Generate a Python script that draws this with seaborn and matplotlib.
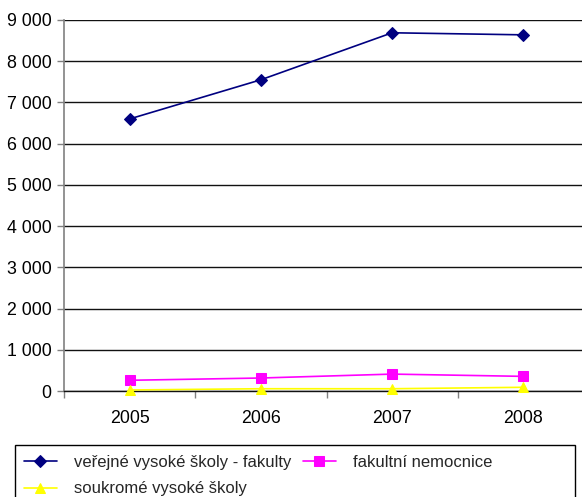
import matplotlib
matplotlib.use("Agg")
import matplotlib.pyplot as plt
import matplotlib.patches as mpatches
import seaborn as sns
import pandas as pd

sns.set_theme(style="white")
plt.rcParams["font.family"] = ["Liberation Sans", "DejaVu Sans"]

years = ["2005", "2006", "2007", "2008"]
verejne = [6600, 7550, 8690, 8640]
nemocnice = [260, 315, 410, 355]
soukrome = [25, 55, 55, 90]

series = [
    ("veřejné vysoké školy - fakulty", verejne, "#000080", "D", 6),
    ("fakultní nemocnice", nemocnice, "#FF00FF", "s", 6.5),
    ("soukromé vysoké školy", soukrome, "#FFFF00", "^", 7),
]

fig = plt.figure(figsize=(5.82, 4.97), dpi=100)
ax = fig.add_axes([64 / 582, 106 / 497, 525 / 582, 371 / 497])

for name, vals, color, marker, ms in series:
    df = pd.DataFrame({"rok": years, "pocet": vals})
    sns.lineplot(data=df, x="rok", y="pocet", ax=ax, color=color, marker=marker,
                 markersize=ms, markeredgecolor=color, linewidth=1.2, label=name,
                 sort=False, zorder=4, clip_on=False)

ax.set_xlim(-0.5, 3.5)
ax.set_ylim(0, 9000)
ax.set_yticks(range(0, 9001, 1000))
ax.set_yticklabels([f"{v:,}".replace(",", " ") for v in range(0, 9001, 1000)])
ax.set_xticks(range(len(years)))
ax.set_xticklabels(years)
ax.set_xticks([-0.5, 0.5, 1.5, 2.5, 3.5], minor=True)
ax.set_xlabel("")
ax.set_ylabel("")

ax.yaxis.grid(True, color="#111111", linewidth=1.0)
ax.set_axisbelow(True)
for s in ["top", "right"]:
    ax.spines[s].set_visible(False)
ax.spines["left"].set_color("#808080")
ax.spines["bottom"].set_color("#111111")
ax.spines["left"].set_linewidth(1.2)
ax.spines["bottom"].set_linewidth(1.0)

ax.tick_params(axis="y", which="major", left=True, length=5, width=1, color="#808080",
               labelsize=12.8, pad=4, labelcolor="black")
ax.tick_params(axis="x", which="major", bottom=False, labelsize=12.8, pad=8,
               labelcolor="black")
ax.tick_params(axis="x", which="minor", bottom=True, length=5, width=1, color="#808080")

ax.legend_.remove()
handles, labels = ax.get_legend_handles_labels()
order = [0, 2, 1]
leg = fig.legend([handles[i] for i in order], [labels[i] for i in order],
                 loc="upper left", bbox_to_anchor=(17 / 582, 1 - 448 / 497),
                 ncol=2, frameon=False, fontsize=12, handlelength=2.0,
                 handletextpad=1.0, columnspacing=0.7, borderaxespad=0,
                 labelspacing=0.7)

fig.patches.append(mpatches.Rectangle((15 / 582, -0.05), 560 / 582, 0.05 + 52 / 497,
                                      transform=fig.transFigure, fill=False,
                                      edgecolor="black", linewidth=1.0))

fig.savefig("out.png", dpi=100)
